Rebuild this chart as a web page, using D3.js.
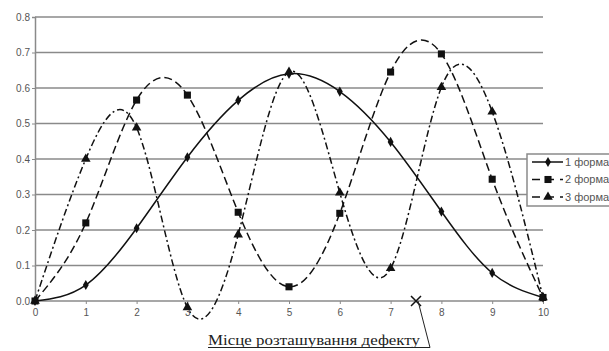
<!DOCTYPE html>
<html>
<head>
<meta charset="utf-8">
<script src="https://cdn.jsdelivr.net/npm/d3@7"></script>
<style>
  body { margin: 0; background: #fff; }
  svg { display: block; }
</style>
</head>
<body>
<svg id="chart" width="609" height="351"></svg>
<script>
// positions along the beam
const positions = [0, 1, 2, 3, 4, 5, 6, 7, 8, 9, 10];
// mode shapes
const mode1 = [0, 0.045, 0.205, 0.405, 0.565, 0.64, 0.59, 0.448, 0.252, 0.079, 0.01];
const mode2 = [0, 0.22, 0.566, 0.58, 0.25, 0.04, 0.247, 0.645, 0.696, 0.343, 0.01];
const mode3 = [0, 0.40, 0.488, -0.018, 0.187, 0.645, 0.305, 0.092, 0.602, 0.533, 0.01];
const seriesNames = ["1 форма", "2 форма", "3 форма"];
const yTicks = [0, 0.1, 0.2, 0.3, 0.4, 0.5, 0.6, 0.7, 0.8];
const defectPosition = 7.5;
const defectLabel = "Місце розташування дефекту";

const svg = d3.select("#chart");

const x = d3.scaleLinear().domain([0, 10]).range([35, 543]);
const y = d3.scaleLinear().domain([0, 0.8]).range([301, 17]);

const gray = "#8a8a8a";
const labelColor = "#555";

// horizontal grid
svg.append("g")
    .selectAll("line")
    .data(yTicks)
    .enter().append("line")
    .attr("x1", x(0))
    .attr("x2", x(10))
    .attr("y1", d => y(d))
    .attr("y2", d => y(d))
    .attr("stroke", gray)
    .attr("stroke-width", 1.5);

// y axis
const yAxis = svg.append("g")
    .attr("transform", "translate(" + x(0) + ",0)")
    .call(d3.axisLeft(y).tickValues(yTicks).tickFormat(d3.format(".1f")).tickSize(3).tickPadding(2));
yAxis.select(".domain").attr("stroke", gray).attr("stroke-width", 1.5);
yAxis.selectAll(".tick line").attr("stroke", gray);
yAxis.selectAll("text")
    .attr("fill", labelColor)
    .attr("font-family", "Arial, 'Liberation Sans', sans-serif")
    .attr("font-size", "10px");

// x axis
const xAxis = svg.append("g")
    .attr("transform", "translate(0," + y(0) + ")")
    .call(d3.axisBottom(x).tickValues(positions).tickFormat(d3.format("d")).tickSize(3).tickPadding(5));
xAxis.select(".domain").remove();
xAxis.selectAll(".tick line").attr("stroke", gray);
xAxis.selectAll("text")
    .attr("fill", labelColor)
    .attr("font-family", "Arial, 'Liberation Sans', sans-serif")
    .attr("font-size", "10px");

const series = [
    { name: seriesNames[0], values: mode1, dash: null, marker: d3.symbolDiamond, size: 30 },
    { name: seriesNames[1], values: mode2, dash: "8,4", marker: d3.symbolSquare, size: 50 },
    { name: seriesNames[2], values: mode3, dash: "7,3,2,3", marker: d3.symbolTriangle, size: 40 }
];

const line = d3.line()
    .x((d, i) => x(positions[i]))
    .y(d => y(d))
    .curve(d3.curveNatural);

series.forEach(s => {
    svg.append("path")
        .attr("d", line(s.values))
        .attr("fill", "none")
        .attr("stroke", "#111")
        .attr("stroke-width", 1.5)
        .attr("stroke-dasharray", s.dash);

    svg.append("g")
        .selectAll("path")
        .data(s.values)
        .enter().append("path")
        .attr("transform", (d, i) => "translate(" + x(positions[i]) + "," + y(d) + ")")
        .attr("d", d3.symbol(s.marker, s.size))
        .attr("fill", "#111");
});

// defect marker and callout
const dx = x(defectPosition), dy = y(0);
svg.append("path")
    .attr("d", `M${dx - 5},${dy - 5}L${dx + 5},${dy + 5}M${dx - 5},${dy + 5}L${dx + 5},${dy - 5}`)
    .attr("stroke", "#111")
    .attr("stroke-width", 1.5);

const labelLeft = 208, labelRight = 420, underlineY = 347.5;
svg.append("text")
    .attr("x", labelLeft)
    .attr("y", 345)
    .attr("font-family", "'Liberation Serif', 'Times New Roman', serif")
    .attr("font-size", "14px")
    .attr("fill", "#222")
    .attr("textLength", labelRight - labelLeft)
    .attr("lengthAdjust", "spacingAndGlyphs")
    .text(defectLabel);
svg.append("line")
    .attr("x1", labelLeft).attr("x2", 430)
    .attr("y1", underlineY).attr("y2", underlineY)
    .attr("stroke", "#222").attr("stroke-width", 1);
svg.append("line")
    .attr("x1", dx + 2).attr("y1", dy)
    .attr("x2", 430).attr("y2", underlineY)
    .attr("stroke", "#222").attr("stroke-width", 1);

// legend
const legend = svg.append("g").attr("transform", "translate(527,154)");
legend.append("rect")
    .attr("width", 100)
    .attr("height", 52)
    .attr("fill", "#fff")
    .attr("stroke", gray)
    .attr("stroke-width", 1.5);
const items = legend.selectAll("g.item")
    .data(series)
    .enter().append("g")
    .attr("class", "item")
    .attr("transform", (s, i) => "translate(0," + (8 + i * 17.5) + ")");
items.append("line")
    .attr("x1", 5).attr("x2", 36)
    .attr("stroke", "#111")
    .attr("stroke-width", 1.5)
    .attr("stroke-dasharray", s => s.dash ? "8,6" : null);
items.append("path")
    .attr("transform", "translate(21,0)")
    .attr("d", s => d3.symbol(s.marker, s.size)())
    .attr("fill", "#111");
items.append("text")
    .attr("x", 38)
    .attr("dy", "0.35em")
    .attr("font-family", "Arial, 'Liberation Sans', sans-serif")
    .attr("font-size", "11px")
    .attr("fill", labelColor)
    .text(s => s.name);
</script>
</body>
</html>
